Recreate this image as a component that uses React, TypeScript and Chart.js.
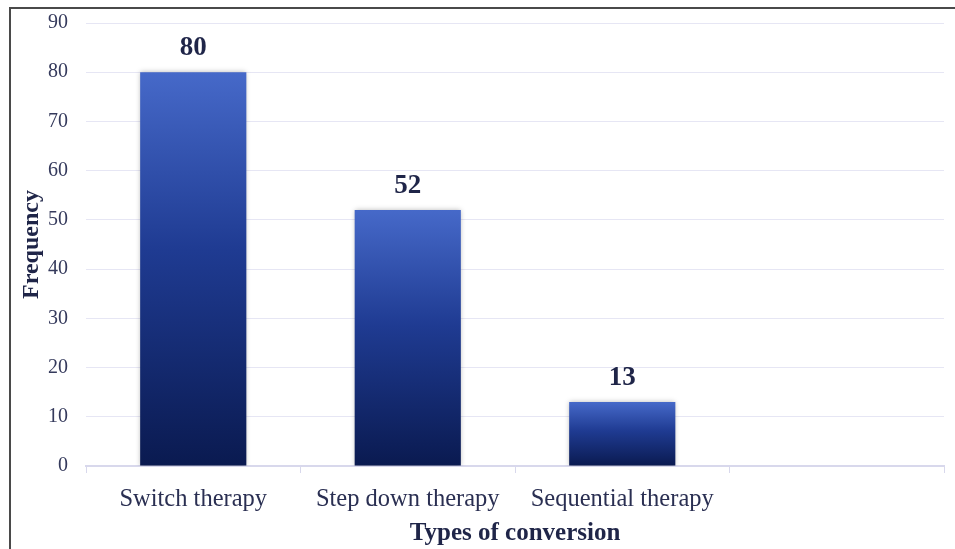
import React, { useEffect, useRef } from "react";
import { Chart, registerables } from "chart.js";

Chart.register(...registerables);

const categories = ["Switch therapy", "Step down therapy", "Sequential therapy", ""];
const frequencies: (number | null)[] = [80, 52, 13, null];
const yTicksMax = 90;
const yTickStep = 10;
const xTitle = "Types of conversion";
const yTitle = "Frequency";

const SERIF = "'Liberation Serif', 'Times New Roman', serif";

const valueLabelPlugin = {
  id: "valueLabels",
  afterDatasetsDraw(chart: any) {
    const ctx = chart.ctx;
    const meta = chart.getDatasetMeta(0);
    ctx.save();
    ctx.font = `bold 27px ${SERIF}`;
    ctx.fillStyle = "#1f2548";
    ctx.textAlign = "center";
    ctx.textBaseline = "alphabetic";
    meta.data.forEach((bar: any, i: number) => {
      const v = frequencies[i];
      if (v === null || v === undefined) return;
      ctx.fillText(String(v), bar.x, bar.y - 17);
    });
    ctx.restore();
  },
};

const shadowPlugin = {
  id: "barShadow",
  beforeDatasetsDraw(chart: any) {
    const ctx = chart.ctx;
    ctx.save();
    ctx.shadowColor = "rgba(0,0,0,0.28)";
    ctx.shadowBlur = 5;
    ctx.shadowOffsetX = 0;
    ctx.shadowOffsetY = 0;
  },
  afterDatasetsDraw(chart: any) {
    chart.ctx.restore();
  },
};

export default function App() {
  const canvasRef = useRef<HTMLCanvasElement | null>(null);

  useEffect(() => {
    document.body.style.margin = "0";
    const canvas = canvasRef.current;
    if (!canvas) return;
    const chart = new Chart(canvas, {
      type: "bar",
      data: {
        labels: categories,
        datasets: [
          {
            data: frequencies as any,
            backgroundColor: (c: any) => {
              const ch = c.chart;
              const ys = ch.scales && ch.scales.y;
              const v = frequencies[c.dataIndex];
              if (!ys || !ch.chartArea || v == null) return "#1e3a8f";
              const top = ys.getPixelForValue(v);
              const bottom = ys.getPixelForValue(0);
              const g = ch.ctx.createLinearGradient(0, top, 0, bottom);
              g.addColorStop(0, "#4669c9");
              g.addColorStop(0.45, "#1f3b92");
              g.addColorStop(1, "#0a1a50");
              return g;
            },
            borderWidth: 0,
            categoryPercentage: 1,
            barPercentage: 0.495,
          },
        ],
      },
      options: {
        responsive: false,
        animation: false,
        devicePixelRatio: 1,
        layout: { padding: { left: 0, right: 11, top: 23, bottom: 0 } },
        plugins: {
          legend: { display: false },
          tooltip: { enabled: false },
        },
        scales: {
          x: {
            offset: true,
            grid: {
              display: true,
              offset: true,
              drawOnChartArea: false,
              drawTicks: true,
              tickLength: 7,
              color: "#d8d8ec",
            },
            border: { display: true, color: "#d8d8ec", width: 2 },
            ticks: {
              color: "#2a2f52",
              font: { family: SERIF, size: 24.5 },
              padding: 12,
              maxRotation: 0,
              autoSkip: false,
            },
            title: {
              display: true,
              text: xTitle,
              color: "#1f2548",
              font: { family: SERIF, size: 25, weight: "bold" },
              padding: { top: 0, bottom: 0 },
            },
            afterFit: (s: any) => {
              s.height = 83;
            },
          },
          y: {
            min: 0,
            max: yTicksMax,
            ticks: {
              stepSize: yTickStep,
              color: "#353a5c",
              font: { family: SERIF, size: 20 },
              padding: 0,
            },
            grid: {
              color: "#e6e6f4",
              drawTicks: true,
              tickLength: 18,
              tickColor: "rgba(0,0,0,0)",
              lineWidth: 1,
            },
            border: { display: false },
            title: {
              display: true,
              text: yTitle,
              color: "#1f2548",
              font: { family: SERIF, size: 24, weight: "bold" },
              padding: { top: 17, bottom: 0 },
            },
            afterFit: (s: any) => {
              s.width = 86;
            },
          },
        },
      },
      plugins: [shadowPlugin, valueLabelPlugin],
    });
    return () => chart.destroy();
  }, []);

  return (
    <div
      style={{
        position: "fixed",
        left: 0,
        top: 0,
        width: 955,
        height: 549,
        overflow: "hidden",
        background: "#fff",
      }}
    >
      <canvas
        ref={canvasRef}
        width={955}
        height={549}
        style={{ position: "absolute", left: 0, top: 0, width: 955, height: 549 }}
      />
      <div
        style={{
          position: "absolute",
          left: 9,
          top: 7,
          width: 1000,
          height: 600,
          borderTop: "2px solid #4a4a4a",
          borderLeft: "2px solid #4a4a4a",
          pointerEvents: "none",
        }}
      />
    </div>
  );
}
